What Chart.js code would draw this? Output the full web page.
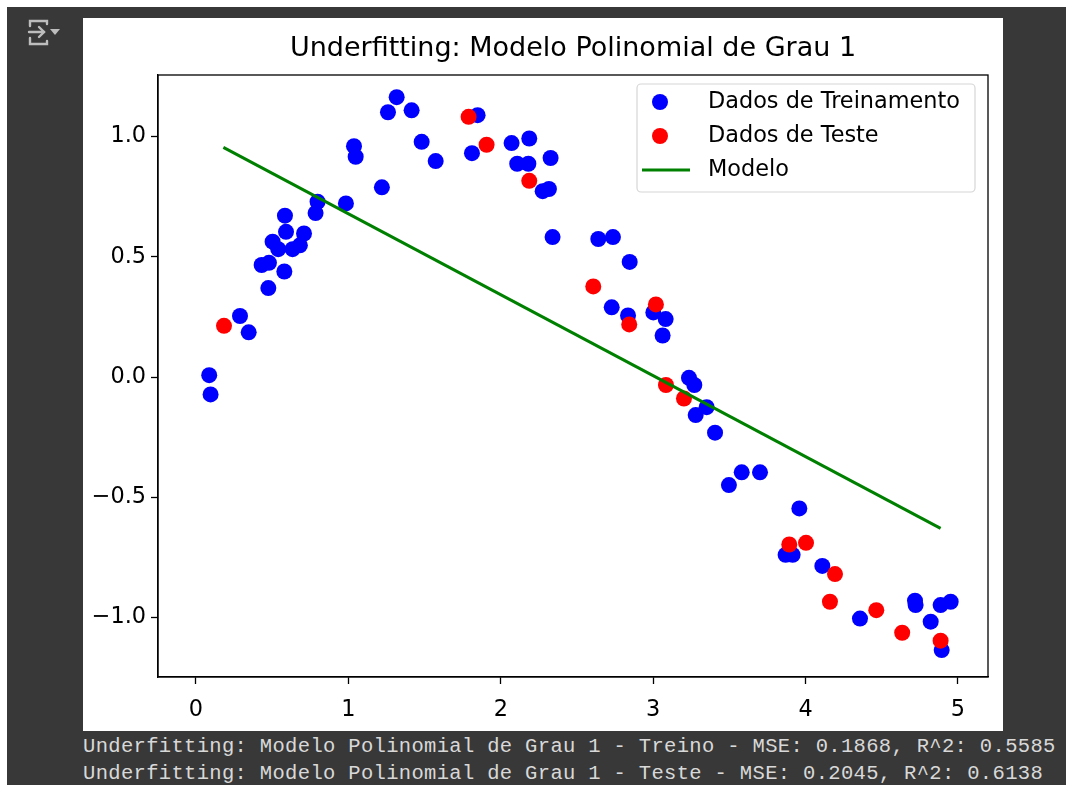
<!DOCTYPE html>
<html>
<head>
<meta charset="utf-8">
<script src="https://cdn.jsdelivr.net/npm/chart.js"></script>
<style>
  html, body { margin: 0; padding: 0; background: #ffffff; }
  #page { position: absolute; left: 7px; top: 7px; width: 1059px; height: 778px; background: #383838; overflow: hidden; }
  #icon { position: absolute; left: 20px; top: 11px; }
  #figure { position: absolute; left: 76px; top: 11px; width: 920px; height: 713px; background: #ffffff; }
  #output { position: absolute; left: 76px; top: 726px; font: 20.5px "Liberation Mono", monospace; letter-spacing: 0.33px; line-height: 27px; color: #d8d8d8; white-space: pre; }
</style>
</head>
<body>
<div id="page">
  <svg id="icon" width="36" height="30" viewBox="0 0 36 30">
    <g fill="none" stroke="#bdbdbd" stroke-width="2.4" stroke-linecap="round">
      <path d="M3 8 V3 H20 V6" />
      <path d="M3 20 V26 H20 V23" />
      <path d="M2 14 H17" />
      <path d="M12 9 L17 14 L12 19" />
    </g>
    <path d="M23 11 H33 L28 17 Z" fill="#bdbdbd" />
  </svg>
  <div id="figure"><canvas id="fit-chart" width="920" height="713"></canvas></div>
  <div id="output">Underfitting: Modelo Polinomial de Grau 1 - Treino - MSE: 0.1868, R^2: 0.5585
Underfitting: Modelo Polinomial de Grau 1 - Teste - MSE: 0.2045, R^2: 0.6138</div>
</div>
<script>
// training points
const trainX = [0.087, 0.096, 0.289, 0.346, 0.475, 0.431, 0.479, 0.580, 0.503, 0.540,
  0.584, 0.591, 0.634, 0.682, 0.709, 0.785, 0.798, 0.984, 1.037, 1.048,
  1.220, 1.260, 1.317, 1.415, 1.481, 1.573, 1.848, 1.811, 2.071, 2.187,
  2.108, 2.181, 2.327, 2.275, 2.316, 2.340, 2.640, 2.736, 2.846, 2.728,
  2.835, 3.001, 3.082, 3.062, 3.235, 3.270, 3.279, 3.351, 3.406, 3.497,
  3.581, 3.701, 3.959, 3.869, 3.915, 4.110, 4.357, 4.718, 4.722, 4.821,
  4.886, 4.952, 4.893];
const trainY = [0.008, -0.072, 0.254, 0.186, 0.370, 0.466, 0.475, 0.439, 0.563, 0.532,
  0.671, 0.604, 0.532, 0.548, 0.597, 0.682, 0.729, 0.722, 0.960, 0.916,
  0.789, 1.101, 1.164, 1.109, 0.978, 0.898, 1.089, 0.931, 0.973, 0.992,
  0.887, 0.887, 0.911, 0.773, 0.782, 0.582, 0.574, 0.582, 0.479, 0.290,
  0.256, 0.269, 0.241, 0.173, -0.003, -0.033, -0.158, -0.125, -0.231, -0.449,
  -0.396, -0.396, -0.546, -0.739, -0.739, -0.785, -1.004, -0.930, -0.948, -1.017,
  -0.948, -0.934, -1.135];

// test points
const testX = [0.184, 1.789, 1.907, 2.187, 2.607, 2.843, 3.018, 3.084, 3.202, 3.893,
  4.003, 4.193, 4.160, 4.464, 4.634, 4.886];
const testY = [0.213, 1.082, 0.966, 0.816, 0.377, 0.219, 0.302, -0.033, -0.089, -0.696,
  -0.689, -0.819, -0.934, -0.969, -1.063, -1.096];

// degree 1 fit, end points
const modelX = [0.18, 4.886];
const modelY = [0.955, -0.629];

const xTicks = [0, 1, 2, 3, 4, 5];
const xTickLabels = ["0", "1", "2", "3", "4", "5"];
const yTicks = [-1, -0.5, 0, 0.5, 1];
const yTickLabels = ["\u22121.0", "\u22120.5", "0.0", "0.5", "1.0"];

const labels = ["Dados de Treinamento", "Dados de Teste", "Modelo"];

const toPoints = (xs, ys) => xs.map((x, i) => ({ x: x, y: ys[i] }));

// box around the plot area, like all four spines
const framePlugin = {
  id: "frame",
  afterDraw(chart) {
    const { ctx, chartArea } = chart;
    ctx.save();
    ctx.strokeStyle = "#000";
    ctx.lineWidth = 1.3;
    ctx.strokeRect(chartArea.left, chartArea.top, chartArea.right - chartArea.left, chartArea.bottom - chartArea.top);
    ctx.restore();
  },
};

// legend box in the upper right corner of the plot
const legendBoxPlugin = {
  id: "legendBox",
  afterDraw(chart) {
    const { ctx, chartArea } = chart;
    const sets = chart.data.datasets;
    ctx.save();
    ctx.font = "22.4px 'DejaVu Sans'";
    const w = 338;
    const h = 108;
    const right = chartArea.right - 13;
    const left = right - w;
    const top = chartArea.top + 9;
    ctx.beginPath();
    ctx.roundRect(left, top, w, h, 4);
    ctx.fillStyle = "rgba(255,255,255,0.8)";
    ctx.fill();
    ctx.strokeStyle = "#d6d6d6";
    ctx.lineWidth = 1.2;
    ctx.stroke();
    sets.forEach((ds, i) => {
      const cy = top + 18 + i * 34;
      if (ds.showLine) {
        ctx.beginPath();
        ctx.moveTo(left + 5, cy);
        ctx.lineTo(left + 53, cy);
        ctx.strokeStyle = ds.borderColor;
        ctx.lineWidth = 3;
        ctx.stroke();
      } else {
        ctx.beginPath();
        ctx.arc(left + 23, cy, 8, 0, Math.PI * 2);
        ctx.fillStyle = ds.backgroundColor;
        ctx.fill();
      }
      ctx.fillStyle = "#000";
      ctx.textBaseline = "middle";
      ctx.fillText(ds.label, left + 71, cy);
    });
    ctx.restore();
  },
};

const tickFont = { family: "'DejaVu Sans'", size: 22.4 };

new Chart(document.getElementById("fit-chart"), {
  type: "scatter",
  data: {
    datasets: [
      {
        label: labels[0],
        data: toPoints(trainX, trainY),
        backgroundColor: "#0000ff",
        borderWidth: 0,
        pointRadius: 8,
        order: 3,
      },
      {
        label: labels[1],
        data: toPoints(testX, testY),
        backgroundColor: "#ff0000",
        borderWidth: 0,
        pointRadius: 8,
        order: 2,
      },
      {
        type: "line",
        label: labels[2],
        data: toPoints(modelX, modelY),
        showLine: true,
        borderColor: "#008000",
        backgroundColor: "#008000",
        borderWidth: 3,
        pointRadius: 0,
        fill: false,
        order: 1,
      },
    ],
  },
  options: {
    responsive: false,
    animation: false,
    layout: { padding: { top: 15, right: 15, left: 0, bottom: 0 } },
    plugins: {
      legend: { display: false },
      tooltip: { enabled: false },
      title: {
        display: true,
        fullSize: false,
        text: "Underfitting: Modelo Polinomial de Grau 1",
        color: "#000",
        font: { family: "'DejaVu Sans'", size: 27, weight: "normal" },
        padding: { top: 0, bottom: 9.6 },
      },
    },
    scales: {
      x: {
        type: "linear",
        min: -0.249,
        max: 5.197,
        afterBuildTicks: (scale) => { scale.ticks = xTicks.map((v) => ({ value: v })); },
        afterFit: (scale) => { scale.height = 54; },
        ticks: {
          color: "#000",
          font: tickFont,
          padding: 13,
          maxRotation: 0,
          callback: (v) => xTickLabels[xTicks.indexOf(v)],
        },
        grid: { drawOnChartArea: false, tickLength: 7, tickColor: "#000", tickWidth: 1.3 },
        border: { color: "#000", width: 1.3 },
      },
      y: {
        type: "linear",
        min: -1.247,
        max: 1.256,
        afterBuildTicks: (scale) => { scale.ticks = yTicks.map((v) => ({ value: v })); },
        afterFit: (scale) => { scale.width = 75; },
        ticks: {
          color: "#000",
          font: tickFont,
          padding: 5,
          callback: (v) => yTickLabels[yTicks.indexOf(v)],
        },
        grid: { drawOnChartArea: false, tickLength: 7, tickColor: "#000", tickWidth: 1.3 },
        border: { color: "#000", width: 1.3 },
      },
    },
  },
  plugins: [framePlugin, legendBoxPlugin],
});
</script>
</body>
</html>
